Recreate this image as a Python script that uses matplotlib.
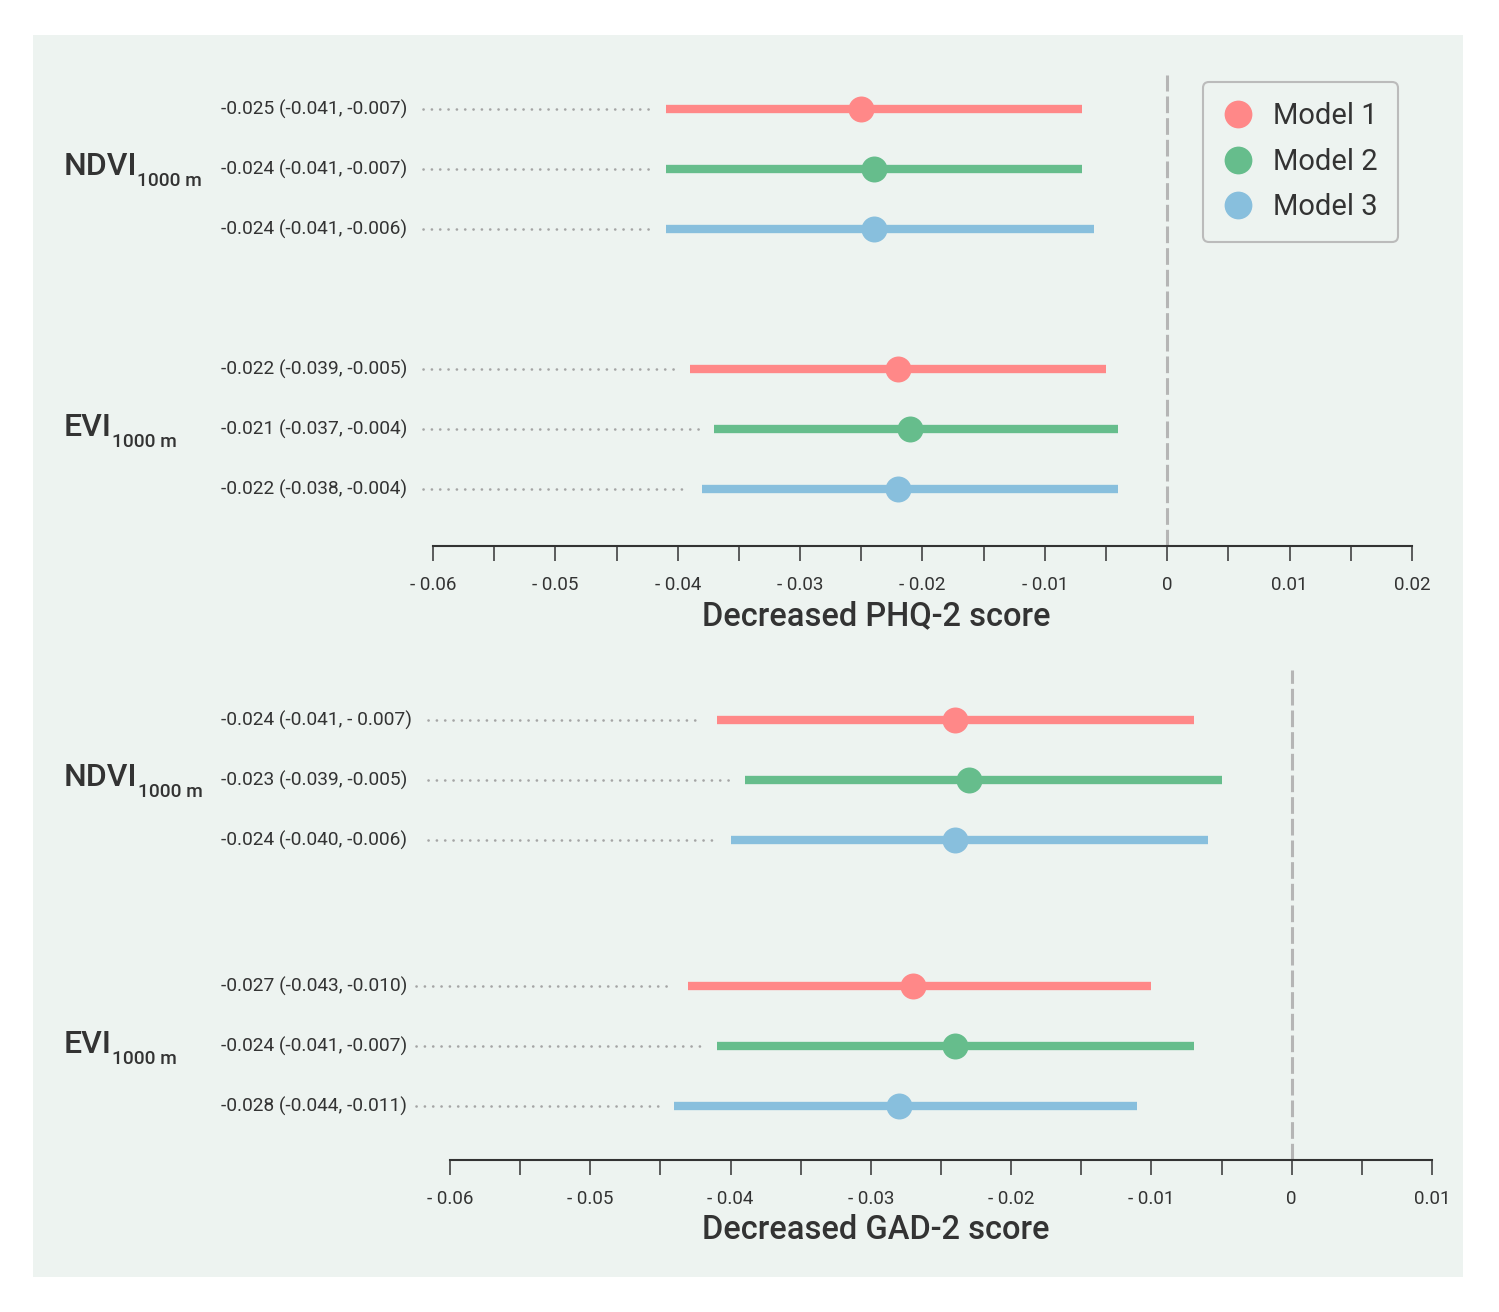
import numpy as np
import matplotlib
matplotlib.use("Agg")
import matplotlib.pyplot as plt
from matplotlib.lines import Line2D
from matplotlib.patches import Rectangle
from matplotlib.ticker import FixedLocator
from matplotlib.transforms import offset_copy

plt.rcParams['font.family'] = ['Roboto', 'DejaVu Sans']
plt.rcParams['lines.scale_dashes'] = False

# ---- data ----
models = ["Model 1", "Model 2", "Model 3"]
exposures = ["NDVI", "EVI"]
exposure_sub = "1000 m"

phq_est = [-0.025, -0.024, -0.024, -0.022, -0.021, -0.022]
phq_lo = [-0.041, -0.041, -0.041, -0.039, -0.037, -0.038]
phq_hi = [-0.007, -0.007, -0.006, -0.005, -0.004, -0.004]
phq_labels = ["-0.025 (-0.041, -0.007)", "-0.024 (-0.041, -0.007)", "-0.024 (-0.041, -0.006)",
              "-0.022 (-0.039, -0.005)", "-0.021 (-0.037, -0.004)", "-0.022 (-0.038, -0.004)"]

gad_est = [-0.024, -0.023, -0.024, -0.027, -0.024, -0.028]
gad_lo = [-0.041, -0.039, -0.040, -0.043, -0.041, -0.044]
gad_hi = [-0.007, -0.005, -0.006, -0.010, -0.007, -0.011]
gad_labels = ["-0.024 (-0.041, - 0.007)", "-0.023 (-0.039, -0.005)", "-0.024 (-0.040, -0.006)",
              "-0.027 (-0.043, -0.010)", "-0.024 (-0.041, -0.007)", "-0.028 (-0.044, -0.011)"]

phq_ticks = [-0.06, -0.05, -0.04, -0.03, -0.02, -0.01, 0, 0.01, 0.02]
phq_ticklabels = ["- 0.06", "- 0.05", "- 0.04", "- 0.03", "- 0.02", "- 0.01", "0", "0.01", "0.02"]
gad_ticks = [-0.06, -0.05, -0.04, -0.03, -0.02, -0.01, 0, 0.01]
gad_ticklabels = ["- 0.06", "- 0.05", "- 0.04", "- 0.03", "- 0.02", "- 0.01", "0", "0.01"]

colors = ["#FF8888", "#66BD8C", "#88BFDD"]
txt_col = "#333333"
bg_col = "#EDF3F0"

W, H = 1499, 1312
fig = plt.figure(figsize=(W / 100, H / 100), dpi=100)
fig.patch.set_facecolor("white")
fig.patches.append(Rectangle((33 / W, 1 - 1277 / H), (1463 - 33) / W, (1277 - 35) / H,
                             transform=fig.transFigure, facecolor=bg_col, edgecolor="none", zorder=-5))
renderer = fig.canvas.get_renderer()


def px_x(ax, px):
    # convert a figure pixel x position into data x of the axes
    return ax.transData.inverted().transform((px, 0))[0]


def draw_panel(rect, xlim, ylim, ypos, est, lo, hi, labels, ticks, ticklabels,
               label_px, dot_px, group_y, xlabel, xlabel_y):
    ax = fig.add_axes(rect)
    ax.set_facecolor("none")
    ax.set_xlim(*xlim)
    ax.set_ylim(*ylim)
    for s in ["top", "left", "right"]:
        ax.spines[s].set_visible(False)
    ax.spines["bottom"].set_color(txt_col)
    ax.spines["bottom"].set_linewidth(1.5)
    ax.set_yticks([])
    ax.xaxis.set_major_locator(FixedLocator(ticks))
    ax.xaxis.set_minor_locator(FixedLocator(np.arange(xlim[0], xlim[1] + 1e-9, 0.005)))
    ax.set_xticklabels(ticklabels)
    ax.tick_params(axis="x", which="both", length=11, width=1.1, color=txt_col,
                   labelsize=13.5, labelcolor=txt_col, pad=10.5)

    ax.axvline(0, color="#b5b5b5", lw=2.2, linestyle=(0, (12, 3.6)), zorder=1)

    for i in range(len(est)):
        c = colors[i % 3]
        ax.plot([lo[i], hi[i]], [ypos[i], ypos[i]], color=c, lw=6,
                solid_capstyle="butt", zorder=2)
        ax.plot(est[i], ypos[i], "o", color=c, ms=18.7, mec="none", zorder=3)
        ax.text(px_x(ax, label_px[i]), ypos[i], labels[i], ha="right", va="center",
                fontsize=13.8, color=txt_col, clip_on=False)
        ax.plot([px_x(ax, dot_px[i]), lo[i] - 0.0011], [ypos[i], ypos[i]],
                color="#a5a5a5", lw=1.9, linestyle=(0, (0.1, 5.9)),
                dash_capstyle="round", clip_on=False, zorder=1)

    for g, name in enumerate(exposures):
        t = ax.text(px_x(ax, 64), group_y[g], name, ha="left", va="baseline",
                    fontsize=23, fontweight="medium", color=txt_col, clip_on=False)
        bb = t.get_window_extent(renderer)
        sub_tr = offset_copy(ax.transData, fig=fig, x=0, y=-11, units="dots")
        ax.text(px_x(ax, bb.x1), group_y[g], exposure_sub, ha="left", va="baseline",
                fontsize=13.8, fontweight="medium", color=txt_col, clip_on=False,
                transform=sub_tr)

    fig.text(876 / W, 1 - xlabel_y / H, xlabel, ha="center", va="center",
             fontsize=23.5, fontweight="medium", color=txt_col)
    return ax


# top panel: PHQ-2
ax1 = draw_panel([433 / W, 1 - 546 / H, 979 / W, (546 - 75) / H],
                 (-0.06, 0.02), (7.283, -0.567),
                 [0, 1, 2, 4.333, 5.333, 6.333],
                 phq_est, phq_lo, phq_hi, phq_labels, phq_ticks, phq_ticklabels,
                 [407] * 6, [423] * 6, [1.1, 5.45],
                 "Decreased PHQ-2 score", 616)

# bottom panel: GAD-2
ax2 = draw_panel([450 / W, 1 - 1160 / H, 982 / W, (1160 - 670) / H],
                 (-0.06, 0.01), (7.333, -0.833),
                 [0, 1, 2, 4.433, 5.433, 6.433],
                 gad_est, gad_lo, gad_hi, gad_labels, gad_ticks, gad_ticklabels,
                 [412, 407, 407, 407, 407, 407], [428, 428, 428, 416, 416, 416], [1.1, 5.55],
                 "Decreased GAD-2 score", 1230)

handles = [Line2D([], [], marker="o", ls="none", color=c, ms=20, mec="none") for c in colors]
leg = fig.legend(handles, models, loc="upper right", bbox_to_anchor=(1398 / W, 1 - 82 / H),
                 fontsize=21, frameon=True, fancybox=True, facecolor=bg_col,
                 edgecolor="#bbbbbb", framealpha=1, labelspacing=0.6,
                 handlelength=1.0, handletextpad=0.7, borderpad=0.7, borderaxespad=0)
leg.get_frame().set_linewidth(1.5)
for t in leg.get_texts():
    t.set_color(txt_col)

fig.savefig("out.png", dpi=100)
